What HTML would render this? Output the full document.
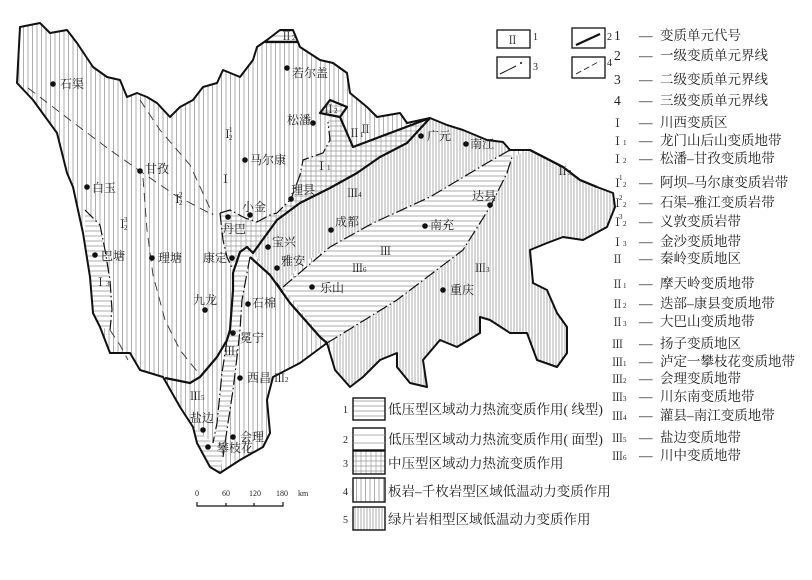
<!DOCTYPE html>
<html><head><meta charset="utf-8"><style>
html,body{margin:0;padding:0;background:#fff}
svg{display:block}
text{font-family:"Liberation Serif","Noto Serif CJK SC",serif;fill:#222}
.c{font-size:12px}
.lg{font-size:13.5px}
.rm{font-size:11px}
</style></head><body>
<svg width="812" height="580" viewBox="0 0 812 580" xmlns="http://www.w3.org/2000/svg">
<defs>
<pattern id="v" width="4.5" height="10" patternUnits="userSpaceOnUse"><line x1="1" y1="0" x2="1" y2="10" stroke="#999" stroke-width="0.8"/></pattern>
<pattern id="vd" width="3" height="10" patternUnits="userSpaceOnUse"><line x1="1" y1="0" x2="1" y2="10" stroke="#999" stroke-width="0.8"/></pattern>
<pattern id="h" width="10" height="5" patternUnits="userSpaceOnUse"><line x1="0" y1="1" x2="10" y2="1" stroke="#999" stroke-width="0.8"/></pattern>
<pattern id="g" width="5" height="5" patternUnits="userSpaceOnUse"><path d="M0 1H5M1 0V5" stroke="#999" stroke-width="0.7" fill="none"/></pattern>
</defs>

<path d="M20 27 L40 23 L50 33 L67 30 L77 43 L93 67 L107 77 L120 80 L127 97 L137 93 L147 97 L157 103 L170 117 L180 107 L193 100 L203 87 L217 83 L223 70 L240 77 L253 60 L257 47 L267 40 L280 30 L293 30 L300 47 L320 60 L333 63 L347 73 L350 93 L367 107 L377 117 L400 113 L407 123 L430 118 L447 125 L463 130 L487 140 L503 142 L510 150 L530 150 L563 167 L580 180 L597 187 L613 193 L615 207 L607 227 L583 240 L563 237 L547 243 L530 250 L533 283 L547 290 L557 313 L567 327 L567 353 L557 367 L537 360 L527 333 L510 333 L490 320 L480 317 L480 333 L457 347 L440 340 L423 360 L427 387 L410 383 L397 367 L397 353 L380 360 L363 377 L350 387 L335 370 L327 343 L300 363 L273 377 L267 400 L270 433 L263 447 L240 460 L220 473 L210 467 L197 443 L193 427 L180 407 L163 377 L140 370 L130 353 L110 353 L100 327 L93 313 L90 277 L83 233 L73 187 L67 173 L57 133 L33 100 L17 83 Z" fill="url(#v)" stroke="none"/>

<path d="M330 188 L357 173 L380 157 L407 143 L430 118 L447 125 L463 130 L487 140 L503 142 L510 150 L487 163 L430 197 L373 223 L330 247 L300 265 L283 287 L290 303 L277 283 L253 253 L277 220 L300 203 Z" fill="#fff"/>
<path d="M330 188 L357 173 L380 157 L407 143 L430 118 L447 125 L463 130 L487 140 L503 142 L510 150 L487 163 L430 197 L373 223 L330 247 L300 265 L283 287 L290 303 L277 283 L253 253 L277 220 L300 203 Z" fill="url(#vd)"/>
<path d="M512 157 L530 150 L563 167 L580 180 L597 187 L613 193 L615 207 L607 227 L583 240 L563 237 L547 243 L530 250 L533 283 L547 290 L557 313 L567 327 L567 353 L557 367 L537 360 L527 333 L510 333 L490 320 L480 317 L480 333 L457 347 L440 340 L423 360 L427 387 L410 383 L397 367 L397 353 L380 360 L363 377 L350 387 L335 370 L337 337 L397 300 L463 250 L490 207 L507 173 Z" fill="#fff"/>
<path d="M512 157 L530 150 L563 167 L580 180 L597 187 L613 193 L615 207 L607 227 L583 240 L563 237 L547 243 L530 250 L533 283 L547 290 L557 313 L567 327 L567 353 L557 367 L537 360 L527 333 L510 333 L490 320 L480 317 L480 333 L457 347 L440 340 L423 360 L427 387 L410 383 L397 367 L397 353 L380 360 L363 377 L350 387 L335 370 L337 337 L397 300 L463 250 L490 207 L507 173 Z" fill="url(#vd)"/>
<path d="M283 287 L330 247 L373 223 L430 197 L487 163 L510 150 L512 157 L507 173 L490 207 L463 250 L397 300 L337 337 L327 343 L300 310 Z" fill="#fff"/>
<path d="M283 287 L330 247 L373 223 L430 197 L487 163 L510 150 L512 157 L507 173 L490 207 L463 250 L397 300 L337 337 L327 343 L300 310 Z" fill="url(#h)"/>
<path d="M330 115 L340 117 L353 147 L430 118 L407 143 L380 157 L357 173 L330 188 L300 203 L277 220 L253 253 L247 247 L240 252 L233 270 L227 257 L223 240 L220 213 L230 210 L245 218 L257 222 L270 215 L277 213 L291 199 L300 175 L303 160 L323 153 L330 140 L328 122 Z" fill="#fff"/>
<path d="M330 115 L340 117 L353 147 L430 118 L407 143 L380 157 L357 173 L330 188 L300 203 L277 220 L253 253 L247 247 L240 252 L233 270 L227 257 L223 240 L220 213 L230 210 L245 218 L257 222 L270 215 L277 213 L291 199 L300 175 L303 160 L323 153 L330 140 L328 122 Z" fill="url(#g)"/>
<path d="M320 113 L330 100 L347 107 L340 117 Z" fill="#fff"/>
<path d="M320 113 L330 100 L347 107 L340 117 Z" fill="url(#g)"/>
<path d="M85 210 L100 225 L105 250 L110 280 L112 310 L110 330 L100 327 L93 313 L90 277 L85 240 Z" fill="#fff"/>
<path d="M85 210 L100 225 L105 250 L110 280 L112 310 L110 330 L100 327 L93 313 L90 277 L85 240 Z" fill="url(#h)"/>
<path d="M250 257 L242 300 L240 330 L237 357 L233 390 L228 423 L223 457 L213 443 L217 423 L222 373 L227 340 L230 330 L233 290 L233 273 L240 252 L247 247 Z" fill="#fff"/>
<path d="M250 257 L242 300 L240 330 L237 357 L233 390 L228 423 L223 457 L213 443 L217 423 L222 373 L227 340 L230 330 L233 290 L233 273 L240 252 L247 247 Z" fill="url(#h)"/>
<path d="M193 427 L213 443 L223 457 L220 473 L210 467 L197 443 Z" fill="#fff"/>
<path d="M193 427 L213 443 L223 457 L220 473 L210 467 L197 443 Z" fill="url(#h)"/>
<path d="M265 42 L280 30 L293 30 L298 42 Z" fill="#fff"/>
<path d="M265 42 L280 30 L293 30 L298 42 Z" fill="url(#h)"/>

<!-- outline stroke -->
<path d="M20 27 L40 23 L50 33 L67 30 L77 43 L93 67 L107 77 L120 80 L127 97 L137 93 L147 97 L157 103 L170 117 L180 107 L193 100 L203 87 L217 83 L223 70 L240 77 L253 60 L257 47 L267 40 L280 30 L293 30 L300 47 L320 60 L333 63 L347 73 L350 93 L367 107 L377 117 L400 113 L407 123 L430 118 L447 125 L463 130 L487 140 L503 142 L510 150 L530 150 L563 167 L580 180 L597 187 L613 193 L615 207 L607 227 L583 240 L563 237 L547 243 L530 250 L533 283 L547 290 L557 313 L567 327 L567 353 L557 367 L537 360 L527 333 L510 333 L490 320 L480 317 L480 333 L457 347 L440 340 L423 360 L427 387 L410 383 L397 367 L397 353 L380 360 L363 377 L350 387 L335 370 L327 343 L300 363 L273 377 L267 400 L270 433 L263 447 L240 460 L220 473 L210 467 L197 443 L193 427 L180 407 L163 377 L140 370 L130 353 L110 353 L100 327 L93 313 L90 277 L83 233 L73 187 L67 173 L57 133 L33 100 L17 83 Z" fill="none" stroke="#111" stroke-width="2" stroke-linejoin="round"/>

<g fill="none" stroke="#111" stroke-width="2.2" stroke-linejoin="round">
<path d="M430 118 L407 143 L380 157 L357 173 L330 188 L300 203 L277 220 L253 253 L247 247 L240 252 L233 273 L233 290 L230 330 L227 340 L217 357 L200 377 L190 383 L165 378"/>
<path d="M250 257 L270 275 L290 303 L320 337 L327 343"/>
<path d="M340 117 L353 147 L430 118"/>
<path d="M320 113 L330 100 L347 107 L340 117 Z"/>
<path d="M265 42 L298 42"/>
<path d="M530 150 L563 167 L580 180 L597 187"/>
</g>
<g fill="none" stroke="#111" stroke-width="1.2" stroke-dasharray="12 3 1.5 3">
<path d="M283 287 L330 247 L373 223 L430 197 L487 163 L510 150"/>
<path d="M327 343 L337 337 L397 300 L463 250 L490 207 L507 173 L512 157"/>
<path d="M220 213 L223 240 L227 257 L233 270"/>
<path d="M220 213 L230 210 L245 218 L257 222 L270 215 L277 213 L291 199 L300 175 L303 160 L323 153 L330 140 L328 122"/>
<path d="M85 210 L100 225 L105 250 L110 280 L112 310 L110 330"/>
<path d="M250 257 L242 300 L240 330 L237 357 L233 390 L228 423 L223 457"/>
<path d="M227 340 L222 373 L217 423 L213 443"/>
<path d="M277 283 L290 303"/>
</g>
<g fill="none" stroke="#333" stroke-width="0.9" stroke-dasharray="9 6">
<path d="M28 88 L70 120 L110 150 L140 171 L175 195 L213 215"/>
<path d="M140 100 L160 130 L190 165 L213 215"/>
<path d="M143 178 L147 230 L153 275 L165 320 L180 350 L200 375"/>
<path d="M110 330 L120 345 L128 360"/>
</g>

<g fill="#111">
<circle cx="53" cy="84" r="2.8"/><circle cx="287" cy="68" r="2.8"/><circle cx="313" cy="123" r="2.8"/>
<circle cx="245" cy="160" r="2.8"/><circle cx="140" cy="171" r="2.8"/><circle cx="87" cy="187" r="2.8"/>
<circle cx="250" cy="215" r="2.8"/><circle cx="228" cy="217" r="2.8"/><circle cx="291" cy="199" r="2.8"/>
<circle cx="421" cy="136" r="2.8"/><circle cx="466" cy="144" r="2.8"/><circle cx="490" cy="205" r="2.8"/>
<circle cx="331" cy="230" r="2.8"/><circle cx="425" cy="226" r="2.8"/><circle cx="268" cy="247" r="2.8"/>
<circle cx="277" cy="268" r="2.8"/><circle cx="232" cy="258" r="2.8"/><circle cx="95" cy="255" r="2.8"/>
<circle cx="152" cy="258" r="2.8"/><circle cx="312" cy="287" r="2.8"/><circle cx="443" cy="290" r="2.8"/>
<circle cx="205" cy="310" r="2.8"/><circle cx="248" cy="304" r="2.8"/><circle cx="233" cy="333" r="2.8"/>
<circle cx="240" cy="378" r="2.8"/><circle cx="203" cy="430" r="2.8"/><circle cx="233" cy="437" r="2.8"/>
<circle cx="208" cy="447" r="2.8"/>
</g>
<g class="c">
<text x="60" y="88">石渠</text><text x="292" y="77">若尔盖</text><text x="287" y="124">松潘</text>
<text x="250" y="164">马尔康</text><text x="145" y="173">甘孜</text><text x="92" y="192">白玉</text>
<text x="242" y="211">小金</text><text x="222" y="233">丹巴</text><text x="291" y="194">理县</text>
<text x="427" y="140">广元</text><text x="470" y="148">南江</text><text x="472" y="200">达县</text>
<text x="335" y="226">成都</text><text x="430" y="229">南充</text><text x="272" y="246">宝兴</text>
<text x="281" y="265">雅安</text><text x="203" y="262">康定</text><text x="101" y="260">巴塘</text>
<text x="158" y="262">理塘</text><text x="320" y="292">乐山</text><text x="450" y="294">重庆</text>
<text x="193" y="304">九龙</text><text x="252" y="307">石棉</text><text x="240" y="342">冕宁</text>
<text x="247" y="382">西昌</text><text x="190" y="422">盐边</text><text x="240" y="441">会理</text>
<text x="217" y="452">攀枝花</text>
</g>
<g class="rm">
<text x="222" y="138">Ⅰ</text><text x="229" y="132" font-size="7">1</text><text x="229" y="140" font-size="7">2</text>
<text x="220" y="183">Ⅰ</text>
<text x="172" y="203">Ⅰ</text><text x="179" y="197" font-size="7">2</text><text x="179" y="205" font-size="7">2</text>
<text x="117" y="228">Ⅰ</text><text x="124" y="222" font-size="7">3</text><text x="124" y="230" font-size="7">2</text>
<text x="95" y="286">Ⅰ<tspan font-size="7">3</tspan></text>
<text x="316" y="170">Ⅰ<tspan font-size="7">1</tspan></text>
<text x="281" y="40">Ⅱ<tspan font-size="7">2</tspan></text>
<text x="323" y="113">Ⅱ<tspan font-size="7">2</tspan></text>
<text x="349" y="137">Ⅱ<tspan font-size="7">1</tspan></text><text x="360" y="133">Ⅱ</text>
<text x="557" y="175">Ⅱ<tspan font-size="7">3</tspan></text>
<text x="347" y="197">Ⅲ<tspan font-size="7">4</tspan></text>
<text x="380" y="255">Ⅲ</text>
<text x="352" y="272">Ⅲ<tspan font-size="7">6</tspan></text>
<text x="475" y="272">Ⅲ<tspan font-size="7">3</tspan></text>
<text x="224" y="355">Ⅲ<tspan font-size="7">1</tspan></text>
<text x="274" y="382">Ⅲ<tspan font-size="7">2</tspan></text>
<text x="190" y="400">Ⅲ<tspan font-size="7">5</tspan></text>
</g>

<g font-size="8" font-family="Liberation Serif">
<text x="195" y="496">0</text><text x="222" y="496">60</text><text x="249" y="496">120</text><text x="276" y="496">180</text><text x="298" y="496">km</text>
</g>
<path d="M197 502 V506 H283 V502 M226 503 V506 M254 503 V506" fill="none" stroke="#111" stroke-width="1.2"/>

<rect x="497" y="30" width="33" height="18" fill="none" stroke="#111" stroke-width="1.3"/>
<text x="507" y="44" font-size="11">Ⅱ</text><text x="533" y="40" font-size="10">1</text>
<rect x="572" y="28" width="33" height="20" fill="none" stroke="#111" stroke-width="1.3"/>
<path d="M576 45 L600 34" stroke="#111" stroke-width="2.2"/><text x="607" y="40" font-size="10">2</text>
<rect x="497" y="57" width="33" height="21" fill="none" stroke="#111" stroke-width="1.3"/>
<path d="M500 74 L516 66" stroke="#111" stroke-width="1"/><circle cx="521" cy="63" r="1" fill="#111"/><text x="533" y="70" font-size="10">3</text>
<rect x="572" y="57" width="33" height="21" fill="none" stroke="#111" stroke-width="1.3"/>
<path d="M576 74 L600 61" stroke="#111" stroke-width="0.8" stroke-dasharray="6 3"/><text x="607" y="66" font-size="10">4</text>

<g class="lg">
<text x="614" y="40">1</text><text x="639" y="40">—</text><text x="660" y="40">变质单元代号</text>
<text x="614" y="60">2</text><text x="639" y="60">—</text><text x="660" y="60">一级变质单元界线</text>
<text x="614" y="84">3</text><text x="639" y="84">—</text><text x="660" y="84">二级变质单元界线</text>
<text x="614" y="105">4</text><text x="639" y="105">—</text><text x="660" y="105">三级变质单元界线</text>
<text x="612" y="127" font-size="11">Ⅰ</text><text x="639" y="127">—</text><text x="660" y="127">川西变质区</text>
<text x="612" y="145" font-size="11">Ⅰ<tspan font-size="7">1</tspan></text><text x="639" y="145">—</text><text x="660" y="145">龙门山后山变质地带</text>
<text x="612" y="163" font-size="11">Ⅰ<tspan font-size="7">2</tspan></text><text x="639" y="163">—</text><text x="660" y="163">松潘–甘孜变质地带</text>
<text x="612" y="187" font-size="11">Ⅰ<tspan font-size="7">2</tspan></text><text x="619" y="180" font-size="7">1</text><text x="639" y="187">—</text><text x="660" y="187">阿坝–马尔康变质岩带</text>
<text x="612" y="207" font-size="11">Ⅰ<tspan font-size="7">2</tspan></text><text x="619" y="200" font-size="7">2</text><text x="639" y="207">—</text><text x="660" y="207">石渠–雅江变质岩带</text>
<text x="612" y="226" font-size="11">Ⅰ<tspan font-size="7">2</tspan></text><text x="619" y="219" font-size="7">3</text><text x="639" y="226">—</text><text x="660" y="226">义敦变质岩带</text>
<text x="612" y="246" font-size="11">Ⅰ<tspan font-size="7">3</tspan></text><text x="639" y="246">—</text><text x="660" y="246">金沙变质地带</text>
<text x="612" y="263" font-size="11">Ⅱ</text><text x="639" y="263">—</text><text x="660" y="263">秦岭变质地区</text>
<text x="612" y="288" font-size="11">Ⅱ<tspan font-size="7">1</tspan></text><text x="639" y="288">—</text><text x="660" y="288">摩天岭变质地带</text>
<text x="612" y="308" font-size="11">Ⅱ<tspan font-size="7">2</tspan></text><text x="639" y="308">—</text><text x="660" y="308">迭部–康县变质地带</text>
<text x="612" y="326" font-size="11">Ⅱ<tspan font-size="7">3</tspan></text><text x="639" y="326">—</text><text x="660" y="326">大巴山变质地带</text>
<text x="612" y="348" font-size="11">Ⅲ</text><text x="639" y="348">—</text><text x="660" y="348">扬子变质地区</text>
<text x="612" y="366" font-size="11">Ⅲ<tspan font-size="7">1</tspan></text><text x="639" y="366">—</text><text x="660" y="366">泸定一攀枝花变质地带</text>
<text x="612" y="383" font-size="11">Ⅲ<tspan font-size="7">2</tspan></text><text x="639" y="383">—</text><text x="660" y="383">会理变质地带</text>
<text x="612" y="401" font-size="11">Ⅲ<tspan font-size="7">3</tspan></text><text x="639" y="401">—</text><text x="660" y="401">川东南变质地带</text>
<text x="612" y="420" font-size="11">Ⅲ<tspan font-size="7">4</tspan></text><text x="639" y="420">—</text><text x="660" y="420">灌县–南江变质地带</text>
<text x="612" y="442" font-size="11">Ⅲ<tspan font-size="7">5</tspan></text><text x="639" y="442">—</text><text x="660" y="442">盐边变质地带</text>
<text x="612" y="460" font-size="11">Ⅲ<tspan font-size="7">6</tspan></text><text x="639" y="460">—</text><text x="660" y="460">川中变质地带</text>
</g>

<g stroke="#111" stroke-width="1.4">
<rect x="353" y="398" width="32" height="22" fill="url(#h)"/>
<rect x="353" y="428" width="32" height="22" fill="#fff"/>
<rect x="353" y="451" width="32" height="23" fill="url(#g)"/>
<rect x="353" y="478" width="32" height="24" fill="url(#v)"/>
<rect x="353" y="507" width="32" height="23" fill="url(#vd)"/>
</g>
<path d="M353 435 H385 M353 443 H385" stroke="#999" stroke-width="0.8"/>
<g class="lg">
<text x="343" y="413" font-size="10">1</text><text x="388" y="414">低压型区域动力热流变质作用( 线型)</text>
<text x="343" y="443" font-size="10">2</text><text x="388" y="444">低压型区域动力热流变质作用( 面型)</text>
<text x="343" y="467" font-size="10">3</text><text x="388" y="468">中压型区域动力热流变质作用</text>
<text x="343" y="495" font-size="10">4</text><text x="388" y="496">板岩–千枚岩型区域低温动力变质作用</text>
<text x="343" y="523" font-size="10">5</text><text x="388" y="524">绿片岩相型区域低温动力变质作用</text>
</g>
</svg>
</body></html>
